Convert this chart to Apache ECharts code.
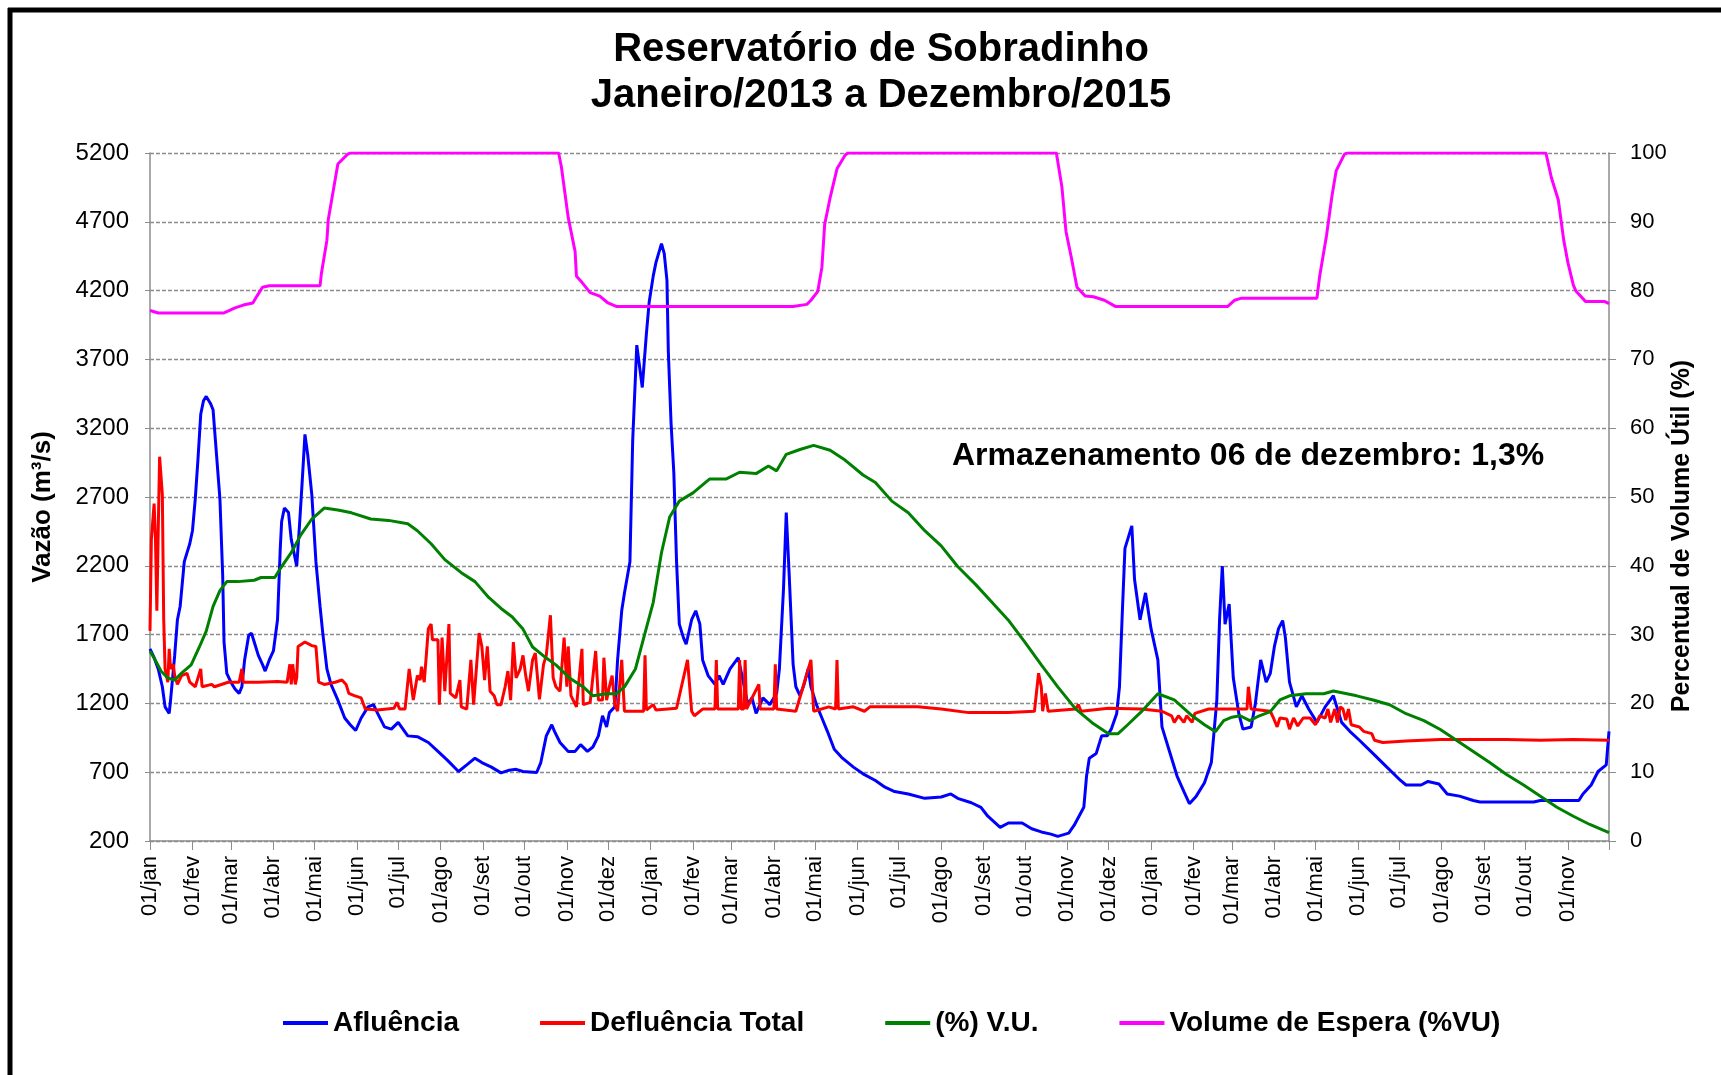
<!DOCTYPE html>
<html>
<head>
<meta charset="utf-8">
<title>Reservatório de Sobradinho</title>
<script src="https://cdn.jsdelivr.net/npm/echarts@6/dist/echarts.min.js"></script>
<style>
html, body { margin: 0; padding: 0; background: #fff; }
#chart { width: 1721px; height: 1075px; }
</style>
</head>
<body>
<div id="chart"></div>
<script>
// eixo x: dias desde 01/jan/2013
const inicio = '2013-01-01'
const totalDias = 1065
const meses = ['jan','fev','mar','abr','mai','jun','jul','ago','set','out','nov','dez']
const ticksVazao = [200,700,1200,1700,2200,2700,3200,3700,4200,4700,5200]

// Afluência (m3/s)
const afluenciaDia = [0,3,6,9,11,14,15,18,20,22,25,29,31,33,35,37,39,41,44,46,48,51,53,54,56,59,62,65,67,69,72,74,76,79,82,84,87,90,93,95,96,98,101,103,106,107,109,111,113,115,118,121,124,126,129,132,137,142,146,150,154,159,163,166,171,176,181,188,195,203,210,217,225,231,237,242,249,256,262,267,272,282,285,289,293,295,299,305,310,314,319,323,327,330,333,335,339,341,344,346,350,352,355,359,362,364,367,369,373,375,377,378,380,382,384,386,389,391,395,398,401,403,407,412,415,418,423,429,432,436,439,442,447,452,457,459,462,464,466,469,471,474,477,480,482,486,490,494,499,505,513,520,529,536,543,553,565,577,584,589,599,606,611,620,626,636,643,650,657,662,670,674,681,683,685,690,694,698,701,705,707,709,711,714,716,718,722,726,730,735,738,743,749,754,758,763,769,774,778,780,782,784,787,790,794,797,803,806,810,814,817,820,823,826,828,831,836,840,845,851,857,863,869,875,882,892,902,912,916,927,932,940,946,955,965,970,1009,1014,1042,1045,1051,1056,1062,1064]
const afluenciaVazao = [1597,1532,1451,1321,1175,1127,1224,1549,1808,1906,2230,2360,2457,2685,2977,3301,3399,3431,3382,3334,3074,2685,2133,1646,1419,1354,1305,1273,1321,1516,1695,1711,1646,1549,1484,1435,1516,1581,1808,2327,2522,2620,2587,2392,2246,2198,2490,2814,3155,3009,2717,2230,1906,1711,1451,1338,1224,1094,1045,1003,1094,1175,1191,1127,1029,1013,1062,964,958,916,851,786,705,753,802,770,737,695,715,721,705,698,770,964,1045,997,916,851,851,900,851,883,964,1110,1029,1133,1175,1516,1873,2003,2230,3106,3804,3496,3885,4113,4307,4405,4541,4470,4275,3756,3236,2879,2230,1776,1678,1630,1808,1873,1776,1516,1402,1338,1402,1338,1451,1532,1386,1191,1240,1127,1240,1191,1273,1451,2035,2587,2165,1484,1321,1256,1338,1451,1321,1191,1094,997,867,802,737,688,640,591,559,542,510,520,542,510,478,445,380,299,331,331,289,266,250,234,257,315,445,672,802,835,964,964,1013,1127,1321,1841,2327,2425,2490,2100,1808,2003,1743,1516,1029,867,672,559,471,526,624,770,1224,1808,2198,1776,1922,1386,1127,1013,1029,1191,1516,1354,1419,1614,1743,1802,1678,1354,1175,1256,1159,1062,1175,1256,1062,997,932,835,737,640,607,607,633,614,542,526,494,484,484,494,494,542,607,705,753,997]

// Defluência Total (m3/s)
const defluenciaDia = [0,1,3,4,5,6,7,9,10,11,13,14,15,17,18,20,23,27,29,33,37,38,45,47,57,65,67,68,79,93,100,102,103,104,106,107,108,113,118,121,123,127,135,140,143,145,149,154,157,166,178,180,182,186,189,192,195,197,198,200,203,205,206,210,211,213,215,218,219,223,226,227,231,234,236,240,242,244,246,248,251,253,256,259,261,263,265,267,270,272,274,276,279,281,284,287,289,292,294,296,299,302,304,305,307,311,315,316,321,325,327,330,331,333,335,337,339,341,344,346,360,361,362,367,369,384,392,395,397,403,412,413,414,429,430,431,433,434,435,444,445,455,456,457,471,482,484,495,500,501,502,513,521,525,543,560,577,597,626,645,648,650,651,653,655,675,677,679,699,723,738,745,747,750,754,756,760,762,772,800,801,803,817,819,822,824,829,831,834,837,841,846,850,853,857,859,861,864,866,868,870,872,874,876,882,885,891,893,899,916,941,965,989,1014,1038,1064]
const defluenciaVazao = [1727,2392,2652,2392,1873,2457,2993,2717,1808,1451,1354,1597,1451,1484,1402,1338,1402,1419,1354,1321,1451,1321,1338,1321,1354,1354,1451,1354,1354,1360,1354,1484,1338,1484,1338,1386,1614,1646,1620,1614,1354,1338,1354,1370,1338,1273,1256,1240,1159,1152,1165,1208,1159,1159,1451,1224,1402,1370,1467,1354,1743,1776,1662,1662,1191,1678,1289,1776,1273,1240,1370,1175,1159,1516,1191,1711,1614,1370,1614,1289,1256,1191,1191,1321,1435,1224,1646,1386,1451,1549,1402,1289,1516,1565,1230,1484,1549,1841,1386,1321,1289,1678,1321,1614,1256,1175,1597,1191,1208,1581,1224,1224,1532,1224,1321,1402,1191,1143,1516,1143,1143,1549,1152,1191,1152,1165,1516,1143,1110,1159,1159,1516,1159,1159,1516,1159,1159,1516,1159,1338,1159,1159,1484,1159,1143,1516,1143,1175,1159,1516,1159,1175,1143,1175,1175,1175,1159,1133,1133,1143,1419,1321,1143,1273,1143,1159,1191,1143,1165,1159,1143,1110,1062,1110,1062,1110,1062,1127,1159,1159,1321,1159,1143,1101,1029,1094,1087,1013,1094,1036,1094,1094,1045,1110,1094,1159,1062,1159,1062,1175,1159,1078,1159,1045,1029,997,980,932,916,926,938,938,938,932,938,932]

// (%) V.U.
const vuDia = [0,3,8,13,18,23,30,36,41,46,51,56,64,76,81,91,95,103,110,118,127,137,147,161,174,188,195,205,215,227,237,247,256,264,272,279,287,296,306,316,323,333,340,346,354,360,367,373,379,386,396,408,420,430,442,451,457,464,474,484,496,506,520,529,541,553,565,577,589,602,614,626,638,650,662,675,687,699,706,713,723,735,747,760,769,777,783,789,795,802,809,817,824,831,843,856,863,880,892,904,916,929,941,953,965,977,989,1002,1014,1026,1038,1050,1064]
const vuPercent = [27.6,26.6,24.7,23.7,23.4,24.4,25.6,28.2,30.5,34.1,36.4,37.7,37.7,37.9,38.3,38.3,39.6,41.9,44.5,46.8,48.4,48.1,47.7,46.8,46.6,46.1,45.1,43.2,40.9,39.0,37.7,35.4,33.8,32.6,30.8,28.2,26.9,25.6,23.7,22.4,21.1,21.4,21.4,22.4,25.0,29.5,34.7,41.9,47.1,49.4,50.6,52.6,52.6,53.6,53.4,54.5,53.8,56.2,56.9,57.5,56.8,55.5,53.2,52.1,49.4,47.7,45.1,42.9,39.9,37.3,34.7,32.1,28.9,25.6,22.4,19.2,17.2,15.6,15.6,16.9,18.8,21.4,20.5,18.2,16.9,15.9,17.5,18.0,18.2,17.5,18.2,18.8,20.5,21.1,21.4,21.4,21.8,21.1,20.5,19.8,18.5,17.5,16.2,14.6,13.0,11.4,9.7,8.1,6.5,4.9,3.6,2.4,1.2]

// Volume de Espera (%VU)
const esperaDia = [0,6,54,62,68,75,78,82,87,124,125,129,130,133,137,144,146,298,300,305,310,311,315,321,328,334,340,469,479,482,487,490,492,496,501,507,509,661,665,668,672,676,682,688,696,704,786,791,796,851,853,858,862,865,871,873,1018,1022,1027,1031,1034,1038,1040,1047,1061,1064]
const esperaPercent = [77.1,76.75,76.75,77.5,77.9,78.2,79.2,80.5,80.7,80.7,82.5,87.3,90.3,93.8,98.4,99.8,100,100,98,90.6,85.7,82.1,81.2,79.7,79.2,78.2,77.7,77.7,78.0,78.6,79.9,83.4,89.6,93.5,97.7,99.7,100,100,95.1,88.6,84.7,80.5,79.2,79.1,78.6,77.7,77.7,78.6,78.9,78.9,82.1,88.0,93.8,97.4,99.8,100,100,96.4,93.2,87.3,84.1,80.8,79.9,78.4,78.4,78.1]

const fonte = '"Liberation Sans", Arial, sans-serif'
const cinza = '#8c8c8c'

let dias = []
let t0 = Date.parse(inicio + 'T00:00:00Z')
for (let i = 0; i < totalDias; i++) {
  dias.push(new Date(t0 + i * 86400000).toISOString().slice(0, 10))
}

function juntar(xs, ys) {
  return xs.map((x, i) => [x, ys[i]])
}

let chart = echarts.init(document.getElementById('chart'))
chart.setOption({
  animation: false,
  backgroundColor: '#fff',
  title: {
    text: 'Reservatório de Sobradinho\nJaneiro/2013 a Dezembro/2015',
    left: 876,
    top: 22,
    textAlign: 'center',
    textStyle: { fontSize: 40, fontWeight: 'bold', lineHeight: 46, color: '#000', fontFamily: fonte }
  },
  legend: {
    left: 278,
    top: 1004,
    icon: 'rect',
    itemWidth: 45,
    itemHeight: 4,
    itemGap: 81,
    textStyle: { fontSize: 28, fontWeight: 'bold', color: '#000', fontFamily: fonte },
    data: ['Afluência', 'Defluência Total', '(%) V.U.', 'Volume de Espera (%VU)']
  },
  grid: { left: 150, right: 112, top: 153, bottom: 234, containLabel: false },
  xAxis: {
    type: 'category',
    boundaryGap: false,
    data: dias,
    axisLine: { lineStyle: { color: cinza, width: 1.5 } },
    axisTick: {
      length: 9,
      lineStyle: { color: cinza },
      interval: (i, v) => v.slice(8) === '01' || i === totalDias - 1
    },
    axisLabel: {
      rotate: 90,
      margin: 15,
      fontSize: 22,
      color: '#000',
      fontFamily: fonte,
      interval: (i, v) => v.slice(8) === '01' && i < totalDias - 1,
      formatter: v => v.slice(8, 10) + '/' + meses[Number(v.slice(5, 7)) - 1]
    },
    splitLine: { show: false }
  },
  yAxis: [
    {
      type: 'value',
      position: 'left',
      min: 200,
      max: 5200,
      axisLine: { show: true, lineStyle: { color: cinza, width: 1.5 } },
      axisTick: { show: true, length: 5, customValues: ticksVazao, lineStyle: { color: cinza } },
      axisLabel: {
        customValues: ticksVazao, fontSize: 24, color: '#000', margin: 21, fontFamily: fonte,
        formatter: v => String(v)
      },
      splitLine: { show: true, lineStyle: { color: cinza, type: [4, 2], width: 1.3 } }
    },
    {
      type: 'value',
      position: 'right',
      min: 0,
      max: 100,
      interval: 10,
      axisLine: { show: true, lineStyle: { color: cinza, width: 1.5 } },
      axisTick: { show: true, length: 7, lineStyle: { color: cinza } },
      axisLabel: { fontSize: 22, color: '#000', margin: 21, fontFamily: fonte },
      splitLine: { show: false }
    }
  ],
  series: [
    {
      name: 'Afluência', type: 'line', yAxisIndex: 0, showSymbol: false,
      color: '#0000ff', lineStyle: { width: 3 },
      data: juntar(afluenciaDia, afluenciaVazao)
    },
    {
      name: 'Defluência Total', type: 'line', yAxisIndex: 0, showSymbol: false,
      color: '#ff0000', lineStyle: { width: 3 },
      data: juntar(defluenciaDia, defluenciaVazao)
    },
    {
      name: '(%) V.U.', type: 'line', yAxisIndex: 1, showSymbol: false,
      color: '#008000', lineStyle: { width: 3 },
      data: juntar(vuDia, vuPercent)
    },
    {
      name: 'Volume de Espera (%VU)', type: 'line', yAxisIndex: 1, showSymbol: false,
      color: '#ff00ff', lineStyle: { width: 3 },
      data: juntar(esperaDia, esperaPercent)
    }
  ],
  graphic: [
    { type: 'line', shape: { x1: 8, y1: 10, x2: 1721, y2: 10 }, style: { stroke: '#000', lineWidth: 5 } },
    { type: 'line', shape: { x1: 10, y1: 8, x2: 10, y2: 1075 }, style: { stroke: '#000', lineWidth: 5 } },
    {
      type: 'text', x: 43, y: 507, rotation: Math.PI / 2,
      style: { text: 'Vazão (m³/s)', fontSize: 26, fontWeight: 'bold', fontFamily: fonte, fill: '#000', align: 'center', verticalAlign: 'middle' }
    },
    {
      type: 'text', x: 1682, y: 536, rotation: Math.PI / 2,
      style: { text: 'Percentual de Volume Útil (%)', fontSize: 25, fontWeight: 'bold', fontFamily: fonte, fill: '#000', align: 'center', verticalAlign: 'middle' }
    },
    {
      type: 'text', x: 952, y: 456,
      style: { text: 'Armazenamento 06 de dezembro: 1,3%', fontSize: 32, fontWeight: 'bold', fontFamily: fonte, fill: '#000', align: 'left', verticalAlign: 'middle' }
    }
  ]
})
</script>
</body>
</html>
